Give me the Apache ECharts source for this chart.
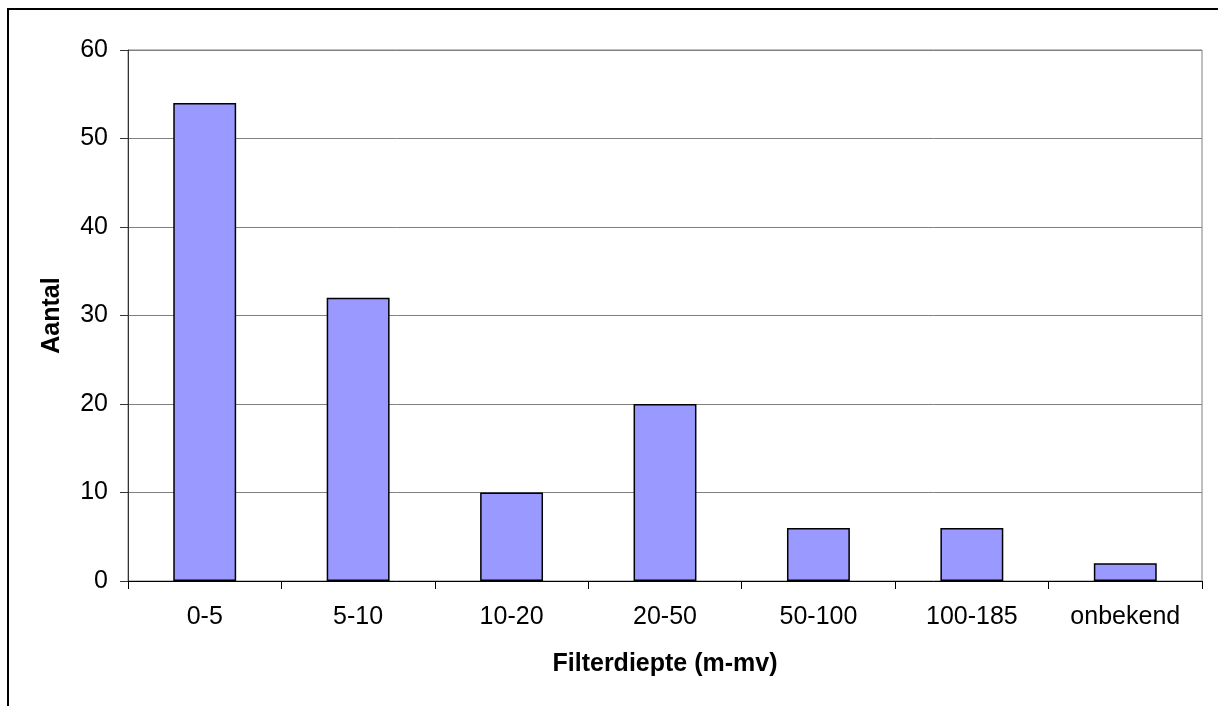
<!DOCTYPE html>
<html>
<head>
<meta charset="utf-8">
<script src="https://cdn.jsdelivr.net/npm/echarts@6/dist/echarts.min.js"></script>
<style>html,body{margin:0;padding:0;background:#fff;}#c{width:1218px;height:706px;}</style>
</head>
<body>
<div id="c"></div>
<script>
const categories = ['0-5', '5-10', '10-20', '20-50', '50-100', '100-185', 'onbekend'];
const counts = [54, 32, 10, 20, 6, 6, 2];
const yTicks = {min: 0, max: 60, interval: 10};
const xTitle = 'Filterdiepte (m-mv)';
const yTitle = 'Aantal';

const chart = echarts.init(document.getElementById('c'), null, {renderer: 'canvas'});
const font = 'Liberation Sans, Arial, sans-serif';
chart.setOption({
  animation: false,
  backgroundColor: '#fff',
  graphic: [{
    type: 'rect',
    shape: {x: 8, y: 9, width: 1260, height: 760},
    style: {fill: 'none', stroke: '#000', lineWidth: 2},
    silent: true, z: 100
  }],
  grid: {left: 128, top: 50, right: 16, bottom: 125, show: true, borderColor: '#808080', borderWidth: 1, backgroundColor: 'transparent'},
  xAxis: {
    type: 'category',
    data: categories,
    name: xTitle,
    nameLocation: 'middle',
    nameGap: 71,
    nameTextStyle: {fontFamily: font, fontSize: 25, fontWeight: 'bold', color: '#000'},
    axisLine: {lineStyle: {color: '#000', width: 1}},
    axisTick: {show: true, length: 8, lineStyle: {color: '#000'}},
    axisLabel: {fontFamily: font, fontSize: 25, color: '#000', margin: 24, interval: 0}
  },
  yAxis: {
    type: 'value',
    min: yTicks.min, max: yTicks.max, interval: yTicks.interval,
    name: yTitle,
    nameLocation: 'middle',
    nameRotate: 90,
    nameGap: 63,
    nameTextStyle: {fontFamily: font, fontSize: 25, fontWeight: 'bold', color: '#000'},
    axisLine: {show: true, lineStyle: {color: '#333', width: 1}},
    axisTick: {show: true, length: 8, lineStyle: {color: '#333'}},
    axisLabel: {fontFamily: font, fontSize: 25, color: '#000', margin: 20},
    splitLine: {show: true, lineStyle: {color: '#808080', width: 1}}
  },
  series: [{
    type: 'bar',
    data: counts,
    barWidth: '41%',
    itemStyle: {color: '#9999FF', borderColor: '#000', borderWidth: 1.5}
  }]
});
</script>
</body>
</html>
